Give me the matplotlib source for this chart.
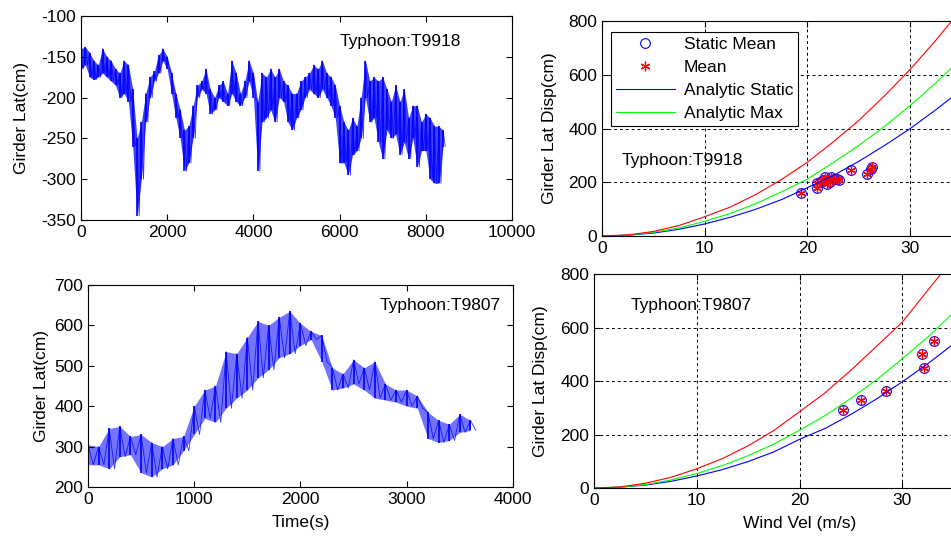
import numpy as np
import matplotlib
matplotlib.use("Agg")
import matplotlib.pyplot as plt

plt.rcParams["font.family"] = ["Liberation Sans", "DejaVu Sans"]
plt.rcParams["font.size"] = 12.5
plt.rcParams["axes.unicode_minus"] = False

# ===== Typhoon T9918 time history (upper / lower envelope every 100 s) =====
t9918 = list(range(0, 8401, 100))
t9918_hi = [-140, -138, -145, -155, -160, -140, -150, -155, -165, -170,
            -155, -160, -190, -250, -230, -195, -175, -168, -148, -140,
            -150, -170, -195, -215, -240, -235, -210, -185, -180, -165,
            -190, -200, -185, -180, -195, -155, -170, -195, -180, -155,
            -170, -205, -170, -175, -165, -175, -165, -180, -185, -195,
            -195, -180, -175, -170, -160, -165, -155, -170, -175, -185,
            -210, -230, -240, -225, -235, -200, -155, -180, -175, -180,
            -175, -190, -205, -185, -205, -190, -225, -210, -210, -230,
            -220, -225, -235, -235, -240]
t9918_lo = [-165, -160, -175, -178, -175, -170, -175, -180, -185, -200,
            -195, -205, -260, -345, -300, -230, -200, -180, -170, -155,
            -165, -195, -225, -250, -290, -280, -250, -200, -190, -195,
            -220, -215, -200, -205, -210, -195, -205, -210, -200, -180,
            -200, -290, -230, -225, -215, -230, -200, -205, -230, -240,
            -225, -215, -200, -190, -195, -200, -190, -200, -210, -225,
            -280, -280, -295, -270, -265, -250, -200, -230, -225, -255,
            -275, -240, -250, -245, -270, -255, -275, -250, -285, -265,
            -265, -300, -305, -305, -260]

# ===== Typhoon T9807 time history (upper / lower envelope every 100 s) =====
t9807 = list(range(0, 3601, 100))
t9807_hi = [305, 300, 345, 350, 325, 330, 310, 300, 320, 325,
            400, 440, 450, 535, 530, 570, 610, 600, 620, 635,
            605, 585, 575, 495, 480, 515, 495, 510, 455, 440,
            440, 425, 385, 365, 355, 380, 365]
t9807_lo = [255, 255, 245, 275, 280, 235, 225, 245, 255, 290,
            330, 370, 360, 395, 420, 440, 470, 490, 520, 530,
            550, 565, 510, 440, 445, 455, 440, 420, 415, 410,
            400, 395, 320, 310, 315, 335, 340]

# ===== Wind velocity vs displacement =====
wind = [0, 2.5, 5, 7.5, 10, 12.5, 15, 17.5, 20, 22.5, 25, 27.5, 30, 32.5, 35, 37.5, 40]
top_red = [0, 4, 17, 39, 72, 108, 155, 211, 275, 350, 430, 522, 620, 729, 845, 970, 1104]
top_green = [0, 3, 14, 30, 55, 84, 121, 165, 212, 273, 337, 408, 486, 570, 661, 759, 864]
top_blue = [0, 3, 11, 25, 45, 70, 100, 136, 180, 225, 278, 337, 400, 470, 545, 626, 712]
bot_red = [0, 4, 18, 40, 72, 110, 158, 215, 285, 356, 440, 530, 620, 740, 860, 985, 1120]
bot_green = [0, 3, 13, 30, 54, 84, 121, 164, 216, 271, 335, 405, 483, 565, 655, 752, 856]
bot_blue = [0, 3, 11, 25, 45, 69, 99, 135, 182, 223, 275, 333, 397, 465, 539, 619, 704]

top_pts_v = [19.35, 20.9, 20.9, 21.2, 21.5, 21.7, 21.85, 22.2, 22.3, 22.6, 22.9, 23.1, 24.2, 25.8, 26.2, 26.3]
top_pts_d = [161, 197, 180, 201, 207, 220, 195, 201, 220, 213, 213, 207, 244, 230, 251, 257]
bot_pts_v = [24.2, 26.0, 28.4, 31.95, 32.1, 33.1]
bot_pts_d = [290, 330, 363, 502, 449, 549]


def band(ax, t, hi, lo, alpha):
    # noisy record: shaded envelope plus vertical strokes between the extremes
    ax.fill_between(t, hi, lo, color="#0000ff", alpha=alpha, lw=0)
    ax.vlines(t, lo, hi, color="#0000ff", lw=1.2)
    xs, ys = [], []
    for ti, h, l in zip(t, hi, lo):
        xs += [ti, ti + 50]
        ys += [h, l]
    ax.plot(xs, ys, color="#0000ff", lw=0.6, alpha=0.8)


def style(ax):
    ax.tick_params(direction="in", top=True, right=True, length=4, width=0.8)
    for s in ax.spines.values():
        s.set_linewidth(0.8)


fig = plt.figure(figsize=(9.51, 5.38), dpi=100)

# top-left
ax1 = fig.add_axes([0.0852, 0.5911, 0.4532, 0.3792])
band(ax1, t9918, t9918_hi, t9918_lo, 0.75)
ax1.set_xlim(0, 10000)
ax1.set_ylim(-350, -100)
ax1.set_xticks(range(0, 10001, 2000))
ax1.set_yticks(range(-350, -99, 50))
ax1.set_ylabel("Girder Lat(cm)", labelpad=9)
ax1.text(0.60, 0.873, "Typhoon:T9918", transform=ax1.transAxes, va="center")
style(ax1)

# bottom-left
ax3 = fig.add_axes([0.0925, 0.0948, 0.4469, 0.3755])
band(ax3, t9807, t9807_hi, t9807_lo, 0.55)
ax3.set_xlim(0, 4000)
ax3.set_ylim(200, 700)
ax3.set_xticks(range(0, 4001, 1000))
ax3.set_yticks(range(200, 701, 100))
ax3.set_ylabel("Girder Lat(cm)", labelpad=3.5)
ax3.set_xlabel("Time(s)", labelpad=6)
ax3.text(0.687, 0.90, "Typhoon:T9807", transform=ax3.transAxes, va="center")
style(ax3)

asterisk = (6, 2, 0)

# top-right
ax2 = fig.add_axes([0.633, 0.5613, 0.4322, 0.3996])
ax2.plot(top_pts_v, top_pts_d, "o", mfc="none", mec="#0000ff", ms=7, mew=0.8, label="Static Mean")
ax2.plot(top_pts_v, top_pts_d, marker=asterisk, ls="none", color="#ff0000", ms=7, mew=0.9, label="Mean")
ax2.plot(wind, top_blue, color="#0000ff", lw=0.8, label="Analytic Static")
ax2.plot(wind, top_green, color="#00ff00", lw=0.8, label="Analytic Max")
ax2.plot(wind, top_red, color="#ff0000", lw=0.8)
ax2.set_xlim(0, 40)
ax2.set_ylim(0, 800)
ax2.set_xticks(range(0, 31, 10))
ax2.set_yticks(range(0, 801, 200))
ax2.set_ylabel("Girder Lat Disp(cm)", labelpad=8)
ax2.grid(True, color="black", ls=(0, (3, 3)), lw=0.7)
ax2.text(1.9, 282, "Typhoon:T9918", va="center", zorder=1)
leg = ax2.legend(loc="upper left", bbox_to_anchor=(0.0, 0.99), fancybox=False,
                 edgecolor="black", framealpha=1, borderpad=0.3, handlelength=3.4,
                 labelspacing=0.45, handletextpad=0.5)
leg.get_frame().set_linewidth(0.8)
style(ax2)

# bottom-right
ax4 = fig.add_axes([0.6246, 0.0929, 0.4322, 0.3978])
ax4.plot(bot_pts_v, bot_pts_d, "o", mfc="none", mec="#0000ff", ms=7, mew=0.8)
ax4.plot(bot_pts_v, bot_pts_d, marker=asterisk, ls="none", color="#ff0000", ms=7, mew=0.9)
ax4.plot(wind, bot_blue, color="#0000ff", lw=0.8)
ax4.plot(wind, bot_green, color="#00ff00", lw=0.8)
ax4.plot(wind, bot_red, color="#ff0000", lw=0.8)
ax4.set_xlim(0, 40)
ax4.set_ylim(0, 800)
ax4.set_xticks(range(0, 31, 10))
ax4.set_yticks(range(0, 801, 200))
ax4.set_ylabel("Girder Lat Disp(cm)", labelpad=9)
ax4.set_xlabel("Wind Vel (m/s)", labelpad=6)
ax4.grid(True, color="black", ls=(0, (3, 3)), lw=0.7)
ax4.text(3.6, 683, "Typhoon:T9807", va="center", zorder=1)
style(ax4)

fig.savefig("out.png", dpi=100)
